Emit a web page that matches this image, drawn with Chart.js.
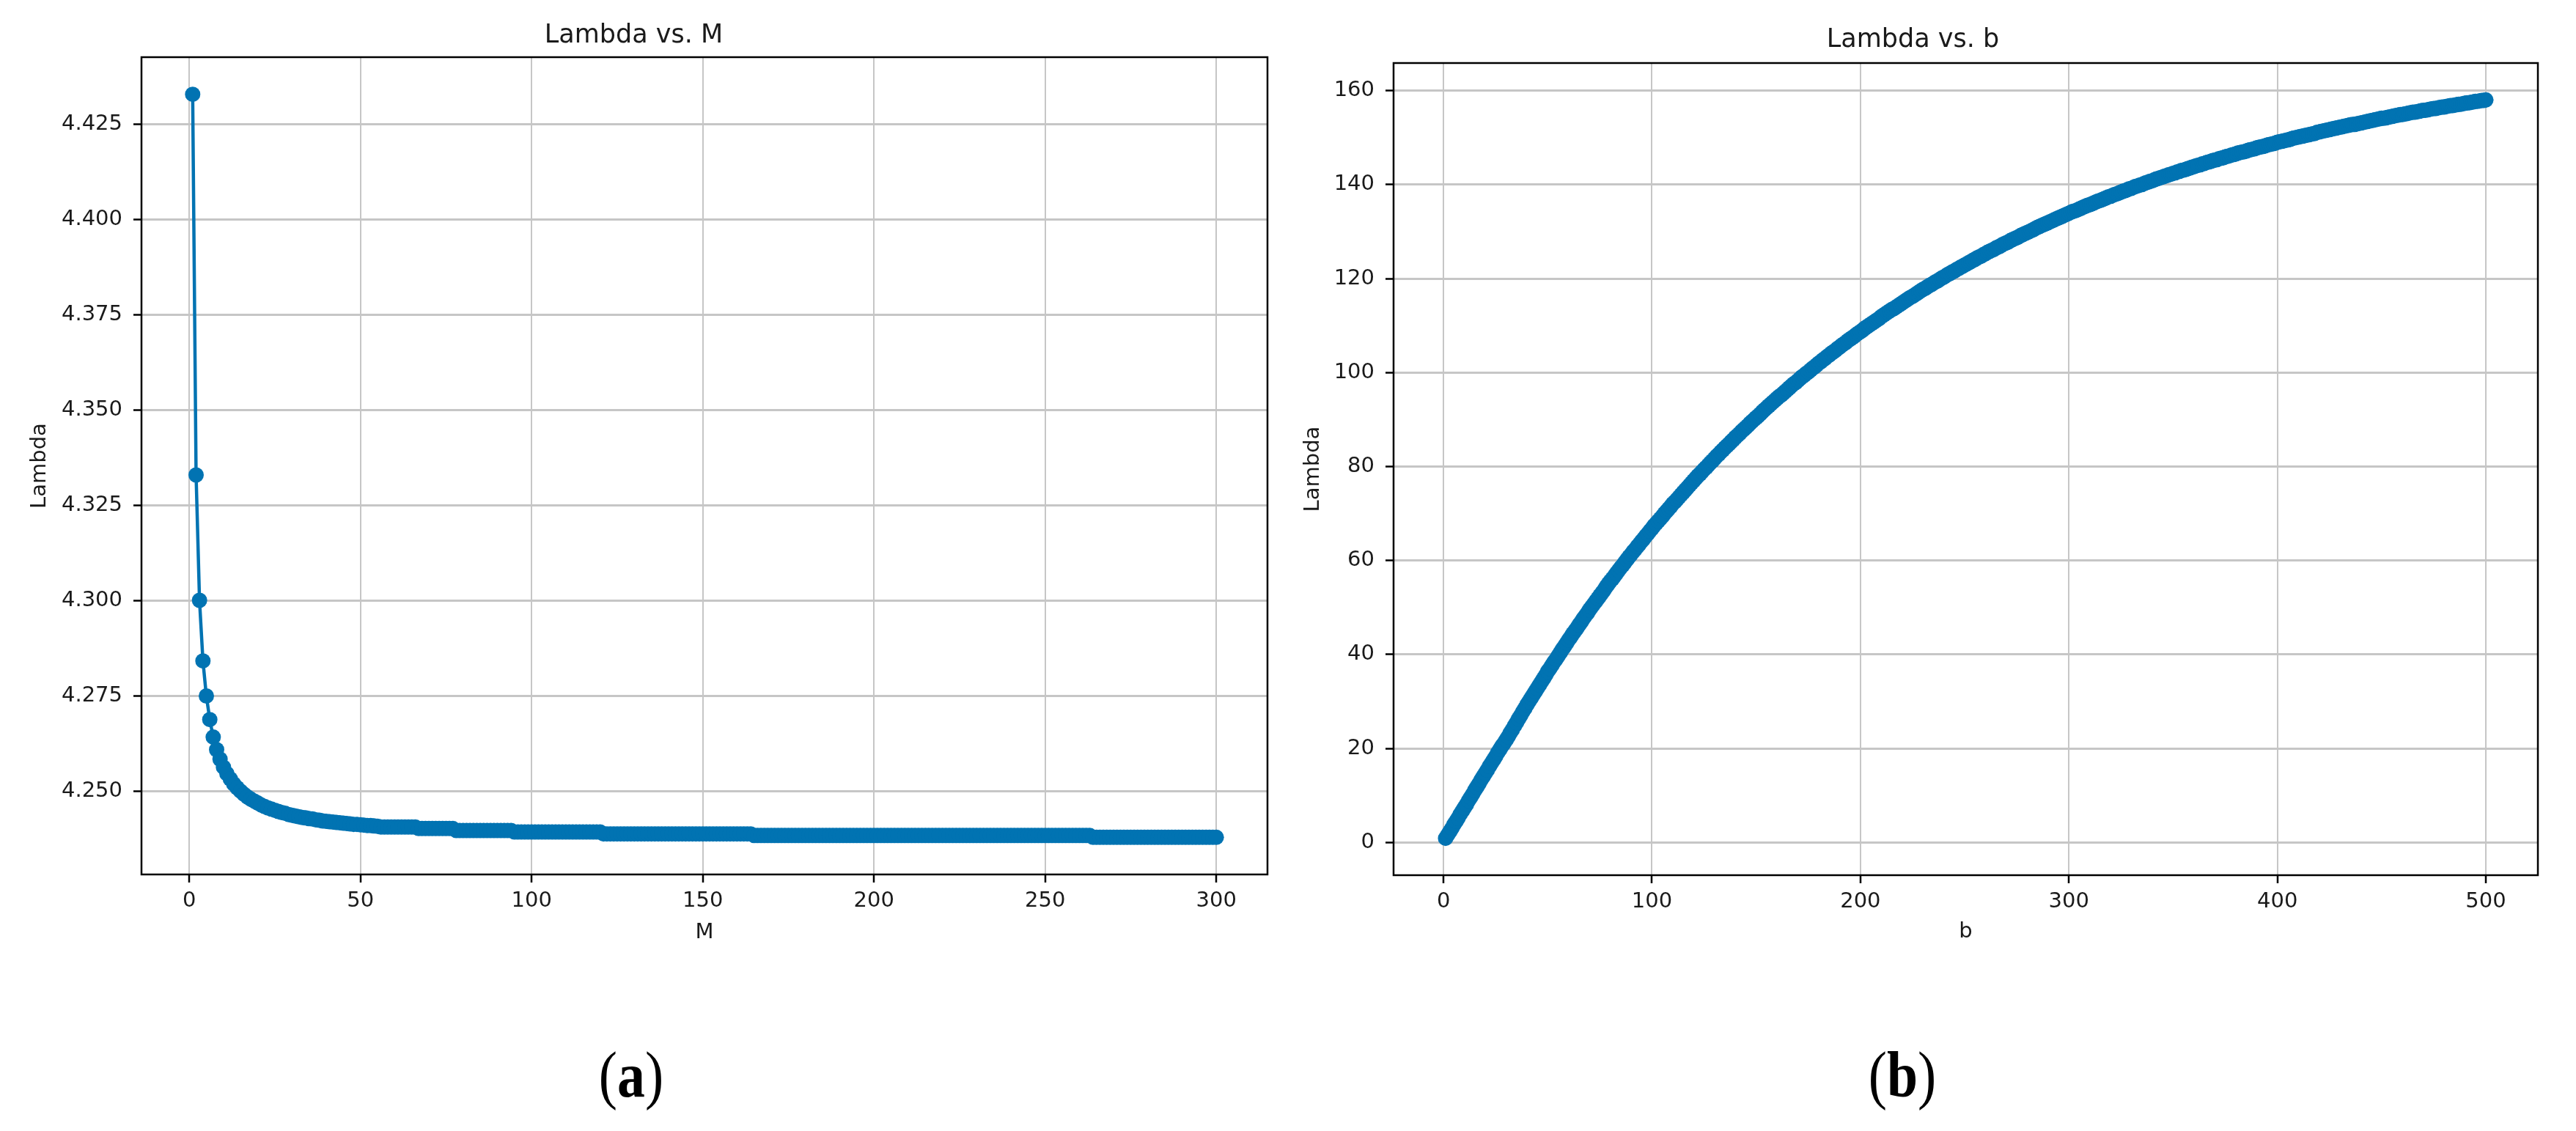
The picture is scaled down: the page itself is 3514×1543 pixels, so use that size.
<!DOCTYPE html>
<html>
<head>
<meta charset="utf-8">
<title>Lambda vs. M / Lambda vs. b</title>
<script src="https://cdn.jsdelivr.net/npm/chart.js@4/dist/chart.umd.min.js"></script>
<style>
  html, body { margin: 0; padding: 0; background: #fff; }
  body { position: relative; width: 3514px; height: 1543px; overflow: hidden; }
  canvas { position: absolute; top: 0; }
  .caption {
    position: absolute; width: 400px; text-align: center;
    font-family: 'Liberation Serif', 'Times New Roman', serif;
    font-size: 88px; line-height: 88px; color: #000;
    transform: scaleX(0.86);
  }
</style>
</head>
<body>
<canvas id="chartM" width="1757" height="1303" style="left:0"></canvas>
<canvas id="chartB" width="1757" height="1304" style="left:1757px"></canvas>
<div class="caption" style="left:661px; top:1423px">(<b>a</b>)</div>
<div class="caption" style="left:2395px; top:1423px">(<b>b</b>)</div>
<script>
const BLUE = '#0173b2';
const FONT = "'DejaVu Sans', sans-serif";
const TEXT = '#1a1a1a';

// Panel (a): Lambda for M = 1 ... 300
const lambdaM = [
  4.4329, 4.3330, 4.3001, 4.2842, 4.2750, 4.2688, 4.2642, 4.2609, 4.2584, 4.2563,
  4.2546, 4.2532, 4.2519, 4.2509, 4.2500, 4.2492, 4.2485, 4.2479, 4.2474, 4.2469,
  4.2464, 4.2460, 4.2456, 4.2453, 4.2450, 4.2447, 4.2444, 4.2442, 4.2439, 4.2437,
  4.2435, 4.2433, 4.2431, 4.2430, 4.2428, 4.2427, 4.2425, 4.2424, 4.2422, 4.2421,
  4.2420, 4.2419, 4.2418, 4.2417, 4.2416, 4.2415, 4.2414, 4.2413, 4.2413, 4.2412,
  4.2411, 4.2410, 4.2410, 4.2409, 4.2408, 4.2406, 4.2406, 4.2406, 4.2406, 4.2406,
  4.2406, 4.2406, 4.2406, 4.2406, 4.2406, 4.2406, 4.2402, 4.2402, 4.2402, 4.2402,
  4.2402, 4.2402, 4.2402, 4.2402, 4.2402, 4.2402, 4.2402, 4.2397, 4.2397, 4.2397,
  4.2397, 4.2397, 4.2397, 4.2397, 4.2397, 4.2397, 4.2397, 4.2397, 4.2397, 4.2397,
  4.2397, 4.2397, 4.2397, 4.2397, 4.2393, 4.2393, 4.2393, 4.2393, 4.2393, 4.2393,
  4.2393, 4.2393, 4.2393, 4.2393, 4.2393, 4.2393, 4.2393, 4.2393, 4.2393, 4.2393,
  4.2393, 4.2393, 4.2393, 4.2393, 4.2393, 4.2393, 4.2393, 4.2393, 4.2393, 4.2393,
  4.2388, 4.2388, 4.2388, 4.2388, 4.2388, 4.2388, 4.2388, 4.2388, 4.2388, 4.2388,
  4.2388, 4.2388, 4.2388, 4.2388, 4.2388, 4.2388, 4.2388, 4.2388, 4.2388, 4.2388,
  4.2388, 4.2388, 4.2388, 4.2388, 4.2388, 4.2388, 4.2388, 4.2388, 4.2388, 4.2388,
  4.2388, 4.2388, 4.2388, 4.2388, 4.2388, 4.2388, 4.2388, 4.2388, 4.2388, 4.2388,
  4.2388, 4.2388, 4.2388, 4.2388, 4.2384, 4.2384, 4.2384, 4.2384, 4.2384, 4.2384,
  4.2384, 4.2384, 4.2384, 4.2384, 4.2384, 4.2384, 4.2384, 4.2384, 4.2384, 4.2384,
  4.2384, 4.2384, 4.2384, 4.2384, 4.2384, 4.2384, 4.2384, 4.2384, 4.2384, 4.2384,
  4.2384, 4.2384, 4.2384, 4.2384, 4.2384, 4.2384, 4.2384, 4.2384, 4.2384, 4.2384,
  4.2384, 4.2384, 4.2384, 4.2384, 4.2384, 4.2384, 4.2384, 4.2384, 4.2384, 4.2384,
  4.2384, 4.2384, 4.2384, 4.2384, 4.2384, 4.2384, 4.2384, 4.2384, 4.2384, 4.2384,
  4.2384, 4.2384, 4.2384, 4.2384, 4.2384, 4.2384, 4.2384, 4.2384, 4.2384, 4.2384,
  4.2384, 4.2384, 4.2384, 4.2384, 4.2384, 4.2384, 4.2384, 4.2384, 4.2384, 4.2384,
  4.2384, 4.2384, 4.2384, 4.2384, 4.2384, 4.2384, 4.2384, 4.2384, 4.2384, 4.2384,
  4.2384, 4.2384, 4.2384, 4.2384, 4.2384, 4.2384, 4.2384, 4.2384, 4.2384, 4.2384,
  4.2384, 4.2384, 4.2384, 4.2379, 4.2379, 4.2379, 4.2379, 4.2379, 4.2379, 4.2379,
  4.2379, 4.2379, 4.2379, 4.2379, 4.2379, 4.2379, 4.2379, 4.2379, 4.2379, 4.2379,
  4.2379, 4.2379, 4.2379, 4.2379, 4.2379, 4.2379, 4.2379, 4.2379, 4.2379, 4.2379,
  4.2379, 4.2379, 4.2379, 4.2379, 4.2379, 4.2379, 4.2379, 4.2379, 4.2379, 4.2379
];

// Panel (b): Lambda for b = 1 ... 500
const lambdaB = [
  0.9, 1.6, 2.3, 3.0, 3.8, 4.5, 5.2, 6.0, 6.7, 7.4,
  8.1, 8.9, 9.6, 10.3, 11.1, 11.8, 12.5, 13.3, 14.0, 14.7,
  15.4, 16.2, 16.9, 17.6, 18.3, 19.1, 19.8, 20.5, 21.1, 21.8,
  22.5, 23.3, 24.0, 24.8, 25.5, 26.3, 27.0, 27.8, 28.5, 29.3,
  30.0, 30.7, 31.4, 32.1, 32.8, 33.5, 34.2, 34.9, 35.6, 36.4,
  37.0, 37.7, 38.4, 39.0, 39.7, 40.4, 41.1, 41.7, 42.4, 43.1,
  43.7, 44.4, 45.0, 45.6, 46.3, 46.9, 47.6, 48.2, 48.8, 49.5,
  50.1, 50.7, 51.3, 51.9, 52.5, 53.1, 53.7, 54.4, 55.0, 55.6,
  56.1, 56.7, 57.3, 57.9, 58.5, 59.0, 59.6, 60.2, 60.8, 61.3,
  61.9, 62.4, 63.0, 63.5, 64.1, 64.6, 65.2, 65.7, 66.3, 66.8,
  67.4, 67.9, 68.4, 68.9, 69.4, 70.0, 70.5, 71.0, 71.5, 72.1,
  72.5, 73.0, 73.5, 74.0, 74.5, 75.0, 75.5, 76.0, 76.5, 77.0,
  77.5, 78.0, 78.4, 78.9, 79.4, 79.8, 80.3, 80.8, 81.2, 81.7,
  82.2, 82.6, 83.1, 83.5, 84.0, 84.4, 84.8, 85.3, 85.7, 86.2,
  86.6, 87.0, 87.5, 87.9, 88.3, 88.7, 89.2, 89.6, 90.0, 90.4,
  90.8, 91.2, 91.7, 92.1, 92.5, 92.9, 93.3, 93.7, 94.1, 94.5,
  94.9, 95.2, 95.6, 96.0, 96.4, 96.8, 97.2, 97.6, 97.9, 98.3,
  98.7, 99.1, 99.4, 99.8, 100.1, 100.5, 100.9, 101.2, 101.6, 102.0,
  102.3, 102.7, 103.0, 103.4, 103.7, 104.1, 104.4, 104.7, 105.1, 105.4,
  105.8, 106.1, 106.4, 106.8, 107.1, 107.4, 107.7, 108.1, 108.4, 108.7,
  109.0, 109.4, 109.7, 110.0, 110.3, 110.6, 110.9, 111.2, 111.5, 111.9,
  112.2, 112.5, 112.8, 113.1, 113.4, 113.6, 113.9, 114.2, 114.5, 114.8,
  115.1, 115.4, 115.7, 116.0, 116.2, 116.5, 116.8, 117.1, 117.4, 117.7,
  117.9, 118.2, 118.5, 118.7, 119.0, 119.3, 119.5, 119.8, 120.1, 120.3,
  120.6, 120.9, 121.1, 121.4, 121.6, 121.9, 122.1, 122.4, 122.6, 122.9,
  123.1, 123.4, 123.6, 123.9, 124.1, 124.4, 124.6, 124.8, 125.1, 125.3,
  125.6, 125.8, 126.0, 126.2, 126.5, 126.7, 126.9, 127.2, 127.4, 127.6,
  127.8, 128.1, 128.3, 128.5, 128.7, 128.9, 129.2, 129.4, 129.6, 129.8,
  130.0, 130.2, 130.4, 130.7, 130.9, 131.1, 131.3, 131.5, 131.7, 131.9,
  132.1, 132.3, 132.5, 132.7, 132.9, 133.1, 133.3, 133.5, 133.7, 133.9,
  134.1, 134.3, 134.4, 134.6, 134.8, 135.0, 135.2, 135.4, 135.6, 135.7,
  135.9, 136.1, 136.3, 136.5, 136.6, 136.8, 137.0, 137.2, 137.4, 137.5,
  137.7, 137.9, 138.0, 138.2, 138.4, 138.6, 138.7, 138.9, 139.1, 139.2,
  139.4, 139.6, 139.7, 139.9, 140.0, 140.2, 140.4, 140.5, 140.7, 140.8,
  141.0, 141.2, 141.3, 141.5, 141.6, 141.8, 141.9, 142.1, 142.2, 142.4,
  142.5, 142.7, 142.8, 143.0, 143.1, 143.2, 143.4, 143.5, 143.7, 143.8,
  144.0, 144.1, 144.2, 144.4, 144.5, 144.7, 144.8, 144.9, 145.1, 145.2,
  145.3, 145.5, 145.6, 145.7, 145.9, 146.0, 146.1, 146.3, 146.4, 146.5,
  146.7, 146.8, 146.9, 147.0, 147.1, 147.3, 147.4, 147.5, 147.6, 147.8,
  147.9, 148.0, 148.1, 148.2, 148.4, 148.5, 148.6, 148.7, 148.8, 149.0,
  149.1, 149.2, 149.3, 149.4, 149.5, 149.6, 149.8, 149.9, 150.0, 150.1,
  150.2, 150.3, 150.4, 150.5, 150.6, 150.7, 150.8, 150.9, 151.1, 151.2,
  151.3, 151.4, 151.5, 151.6, 151.7, 151.8, 151.9, 152.0, 152.1, 152.2,
  152.3, 152.4, 152.5, 152.6, 152.7, 152.8, 152.8, 152.9, 153.0, 153.1,
  153.2, 153.3, 153.4, 153.5, 153.6, 153.7, 153.8, 153.9, 154.0, 154.1,
  154.1, 154.2, 154.3, 154.4, 154.5, 154.6, 154.7, 154.8, 154.9, 154.9,
  155.0, 155.1, 155.2, 155.3, 155.4, 155.4, 155.5, 155.6, 155.7, 155.8,
  155.8, 155.9, 156.0, 156.1, 156.2, 156.2, 156.3, 156.4, 156.5, 156.5,
  156.6, 156.7, 156.8, 156.8, 156.9, 157.0, 157.1, 157.1, 157.2, 157.3,
  157.4, 157.4, 157.5, 157.6, 157.7, 157.7, 157.8, 157.9, 157.9, 158.0
];

const ticksMx = [0, 50, 100, 150, 200, 250, 300];
const ticksMy = [4.250, 4.275, 4.300, 4.325, 4.350, 4.375, 4.400, 4.425];
const ticksBx = [0, 100, 200, 300, 400, 500];
const ticksBy = [0, 20, 40, 60, 80, 100, 120, 140, 160];

// matplotlib-style box: spines on all four sides
const frame = {
  id: 'frame',
  afterDatasetsDraw(chart) {
    const {ctx, chartArea: a} = chart;
    ctx.save();
    ctx.strokeStyle = '#000';
    ctx.lineWidth = 2.5;
    ctx.strokeRect(a.left, a.top, a.right - a.left, a.bottom - a.top);
    ctx.restore();
  }
};

function axis(p) {
  return {
    type: 'linear',
    position: p.position,
    min: p.min,
    max: p.max,
    afterBuildTicks: s => { s.ticks = p.ticks.map(v => ({value: v})); },
    afterFit: s => {
      if (p.width) s.width = p.width;
      if (p.height) s.height = p.height;
    },
    border: {display: false},
    grid: {color: '#c6c6c6', lineWidth: p.gridWidth, tickLength: 11, tickColor: '#000', tickWidth: 2.5},
    ticks: {
      color: TEXT, font: {family: FONT, size: 29}, padding: p.tickPad,
      autoSkip: false, maxRotation: 0, callback: p.fmt || (v => v)
    },
    title: {display: true, text: p.label, color: TEXT, font: {family: FONT, size: 29}, padding: p.titlePad}
  };
}

function lineChart(id, p) {
  return new Chart(document.getElementById(id), {
    type: 'scatter',
    data: {
      datasets: [{
        data: p.values.map((y, i) => ({x: i + 1, y})),
        showLine: true,
        borderColor: BLUE,
        backgroundColor: BLUE,
        borderWidth: 4.5,
        pointRadius: 10.5,
        pointHoverRadius: 10.5,
        pointBorderWidth: 0
      }]
    },
    options: {
      responsive: false,
      animation: false,
      devicePixelRatio: 1,
      layout: {padding: {top: 0, left: 0, bottom: 0, right: p.padRight}},
      plugins: {
        legend: {display: false},
        tooltip: {enabled: false},
        title: {
          display: true, text: p.title, color: TEXT,
          font: {family: FONT, size: 35, weight: 'normal'},
          padding: p.titlePad
        }
      },
      scales: {x: p.x, y: p.y}
    },
    plugins: [frame]
  });
}

lineChart('chartM', {
  values: lambdaM,
  title: 'Lambda vs. M',
  titlePad: {top: 27.5, bottom: 8.5},
  padRight: 28,
  x: axis({position: 'bottom', min: -13.95, max: 314.95, ticks: ticksMx, height: 110,
           gridWidth: 2, tickPad: 8, label: 'M', titlePad: {bottom: 13.6}}),
  y: axis({position: 'left', min: 4.22815, max: 4.44265, ticks: ticksMy, width: 193,
           gridWidth: 3, tickPad: 15, label: 'Lambda', titlePad: {top: 36.6},
           fmt: v => v.toFixed(3)})
});

lineChart('chartB', {
  values: lambdaB,
  title: 'Lambda vs. b',
  titlePad: {top: 34, bottom: 10},
  padRight: 52,
  x: axis({position: 'bottom', min: -23.95, max: 524.95, ticks: ticksBx, height: 110,
           gridWidth: 2, tickPad: 8, label: 'b', titlePad: {bottom: 15.6}}),
  y: axis({position: 'left', min: -6.955, max: 165.855, ticks: ticksBy, width: 144,
           gridWidth: 3, tickPad: 15, label: 'Lambda', titlePad: {top: 16.6}})
});
</script>
</body>
</html>
